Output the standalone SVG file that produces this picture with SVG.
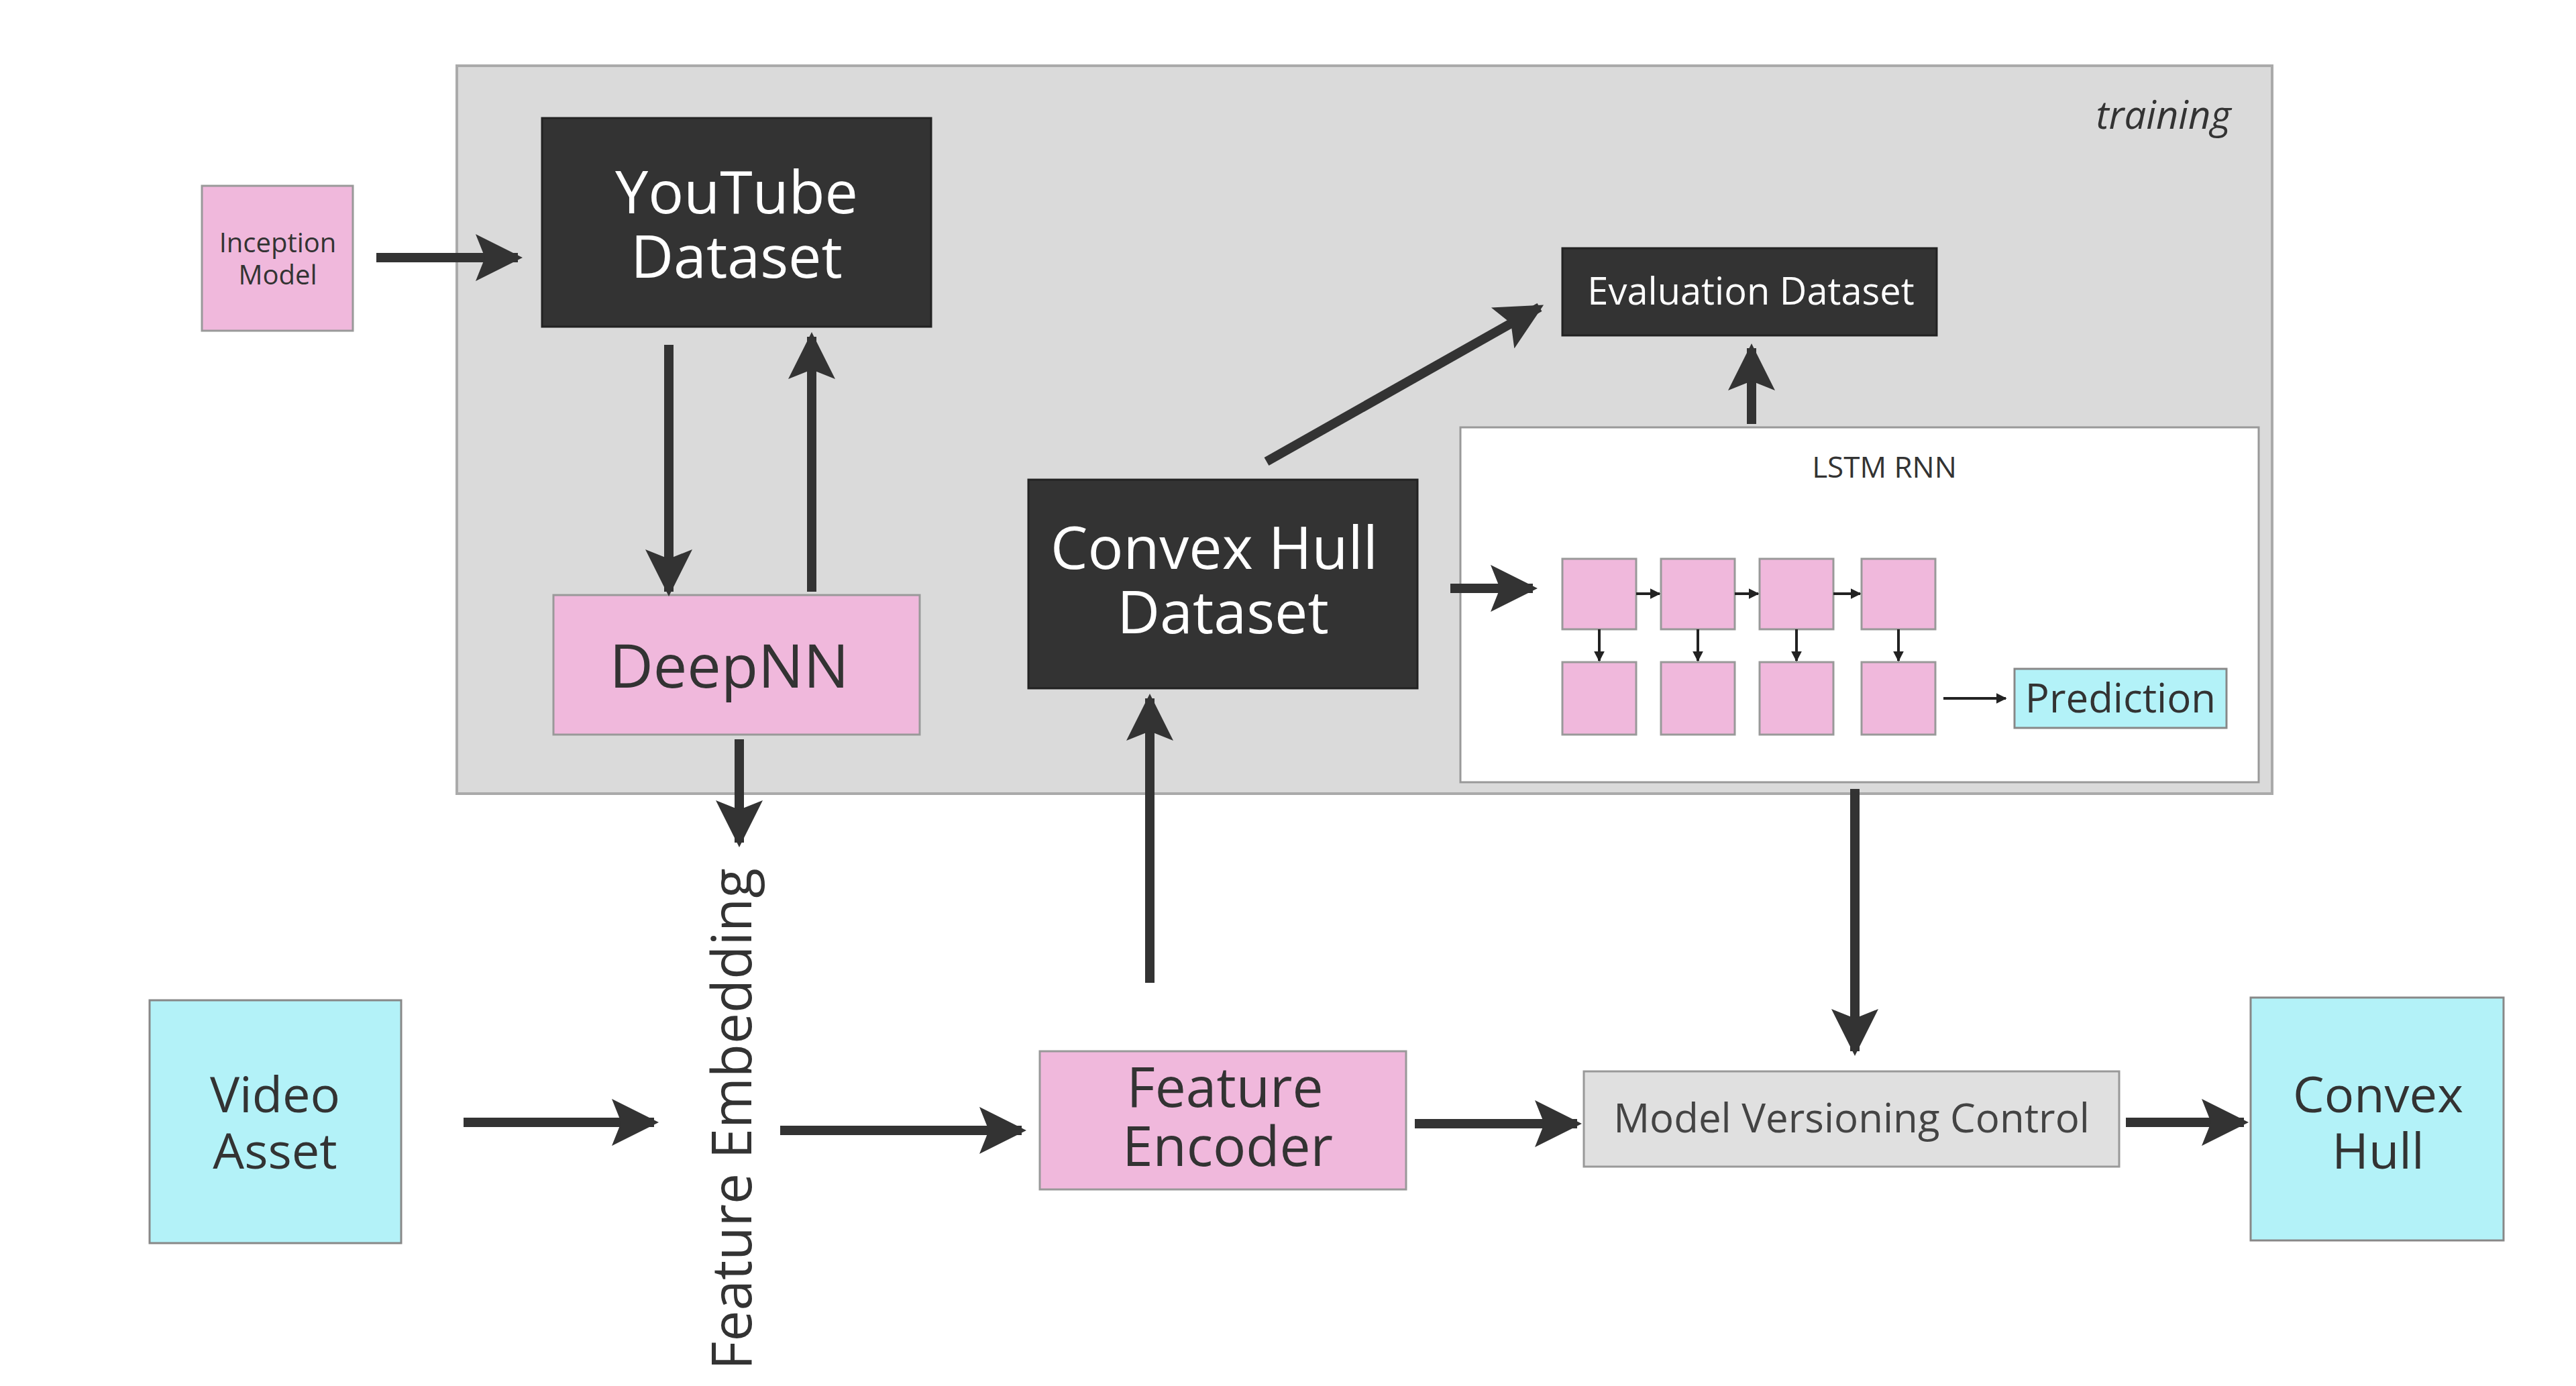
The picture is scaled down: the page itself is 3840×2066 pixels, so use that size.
<svg xmlns="http://www.w3.org/2000/svg" width="3840" height="2066" viewBox="0 0 3840 2066">
<style>
text{font-family:"Open Sans","Noto Sans",sans-serif;text-anchor:middle}
.pink{fill:#f0b8dc;stroke:#999;stroke-width:3}
.dark{fill:#333;stroke:#222;stroke-width:3}
.cyan{fill:#b3f2f8;stroke:#888;stroke-width:3}
.w{fill:#fff}
.k{fill:#333}
.a{stroke:#333;stroke-width:14;fill:none}
.s{stroke:#222;stroke-width:4;fill:none}
</style>
<defs>
<marker id="ah" viewBox="0 0 10 10" refX="9" refY="5" markerWidth="6" markerHeight="5" orient="auto" markerUnits="strokeWidth"><path d="M0,0L10,5L0,10L2,5z" fill="#333"/></marker>
<marker id="sh" viewBox="0 0 10 10" refX="9" refY="5" markerWidth="4" markerHeight="4" orient="auto" markerUnits="strokeWidth"><path d="M0,0L10,5L0,10z" fill="#222"/></marker>
</defs>
<rect width="3840" height="2066" fill="#fff"/>
<g id="training"><rect x="681" y="98" width="2706" height="1085" fill="#dadada" stroke="#aaa" stroke-width="4"/><text x="3225" y="192" font-size="58" font-style="italic" class="k">training</text></g>
<g id="inception"><rect class="pink" x="301" y="277" width="225" height="216"/><text x="414" y="376" font-size="40" class="k">Inception</text><text x="414" y="424" font-size="40" class="k">Model</text></g>
<g id="youtube"><rect class="dark" x="808" y="176" width="580" height="311"/><text x="1098" y="318" font-size="88" class="w">YouTube</text><text x="1098" y="414" font-size="88" class="w">Dataset</text></g>
<g id="deepnn"><rect class="pink" x="825" y="887" width="546" height="208"/><text x="1087" y="1025" font-size="90" class="k">DeepNN</text></g>
<g id="chd"><rect class="dark" x="1533" y="715" width="580" height="311"/><text x="1810" y="848" font-size="88" class="w">Convex Hull</text><text x="1823" y="944" font-size="88" class="w">Dataset</text></g>
<g id="eval"><rect class="dark" x="2329" y="370" width="558" height="130"/><text x="2610" y="454" font-size="56" class="w">Evaluation Dataset</text></g>
<g id="lstm"><rect x="2177" y="637" width="1190" height="529" fill="#fff" stroke="#999" stroke-width="3"/><text x="2809" y="712" font-size="44" class="k">LSTM RNN</text>
<rect class="pink" x="2329" y="833" width="110" height="105"/><rect class="pink" x="2476" y="833" width="110" height="105"/><rect class="pink" x="2623" y="833" width="110" height="105"/><rect class="pink" x="2775" y="833" width="110" height="105"/>
<rect class="pink" x="2329" y="987" width="110" height="108"/><rect class="pink" x="2476" y="987" width="110" height="108"/><rect class="pink" x="2623" y="987" width="110" height="108"/><rect class="pink" x="2775" y="987" width="110" height="108"/></g>
<g id="prediction"><rect class="cyan" x="3003" y="997" width="316" height="88"/><text x="3161" y="1062" font-size="60" class="k">Prediction</text></g>
<g id="video"><rect class="cyan" x="223" y="1491" width="375" height="362"/><text x="410" y="1658" font-size="74" class="k">Video</text><text x="410" y="1742" font-size="74" class="k">Asset</text></g>
<g id="fe"><rect class="pink" x="1550" y="1567" width="546" height="206"/><text x="1826" y="1650" font-size="82" class="k">Feature</text><text x="1830" y="1738" font-size="82" class="k">Encoder</text></g>
<g id="mvc"><rect x="2361" y="1597" width="798" height="142" fill="#e0e0e0" stroke="#999" stroke-width="3"/><text x="2760" y="1688" font-size="60" fill="#444">Model Versioning Control</text></g>
<g id="ch"><rect class="cyan" x="3355" y="1487" width="377" height="362"/><text x="3545" y="1658" font-size="74" class="k">Convex</text><text x="3545" y="1742" font-size="74" class="k">Hull</text></g>
<g id="fembed"><text transform="translate(1120,1668) rotate(-90)" font-size="82" class="k">Feature Embedding</text></g>
<g id="connectors">
<line class="a" marker-end="url(#ah)" x1="561" y1="384" x2="772" y2="384"/>
<line class="a" marker-end="url(#ah)" x1="997" y1="514" x2="997" y2="882"/>
<line class="a" marker-end="url(#ah)" x1="1210" y1="882" x2="1210" y2="502"/>
<line class="a" marker-end="url(#ah)" x1="1102" y1="1102" x2="1102" y2="1256"/>
<line class="a" marker-end="url(#ah)" x1="691" y1="1673" x2="975" y2="1673"/>
<line class="a" marker-end="url(#ah)" x1="1163" y1="1685" x2="1523" y2="1685"/>
<line class="a" marker-end="url(#ah)" x1="1714" y1="1465" x2="1714" y2="1041"/>
<line class="a" marker-end="url(#ah)" x1="1888" y1="688" x2="2295" y2="458"/>
<line class="a" marker-end="url(#ah)" x1="2611" y1="632" x2="2611" y2="519"/>
<line class="a" marker-end="url(#ah)" x1="2162" y1="877" x2="2285" y2="877"/>
<line class="a" marker-end="url(#ah)" x1="2765" y1="1176" x2="2765" y2="1567"/>
<line class="a" marker-end="url(#ah)" x1="2109" y1="1675" x2="2351" y2="1675"/>
<line class="a" marker-end="url(#ah)" x1="3169" y1="1673" x2="3345" y2="1673"/>
<line class="s" marker-end="url(#sh)" x1="2439" y1="885" x2="2474" y2="885"/>
<line class="s" marker-end="url(#sh)" x1="2586" y1="885" x2="2621" y2="885"/>
<line class="s" marker-end="url(#sh)" x1="2733" y1="885" x2="2773" y2="885"/>
<line class="s" marker-end="url(#sh)" x1="2384" y1="938" x2="2384" y2="985"/>
<line class="s" marker-end="url(#sh)" x1="2531" y1="938" x2="2531" y2="985"/>
<line class="s" marker-end="url(#sh)" x1="2678" y1="938" x2="2678" y2="985"/>
<line class="s" marker-end="url(#sh)" x1="2830" y1="938" x2="2830" y2="985"/>
<line class="s" marker-end="url(#sh)" x1="2897" y1="1041" x2="2990" y2="1041"/>
</g>
</svg>
